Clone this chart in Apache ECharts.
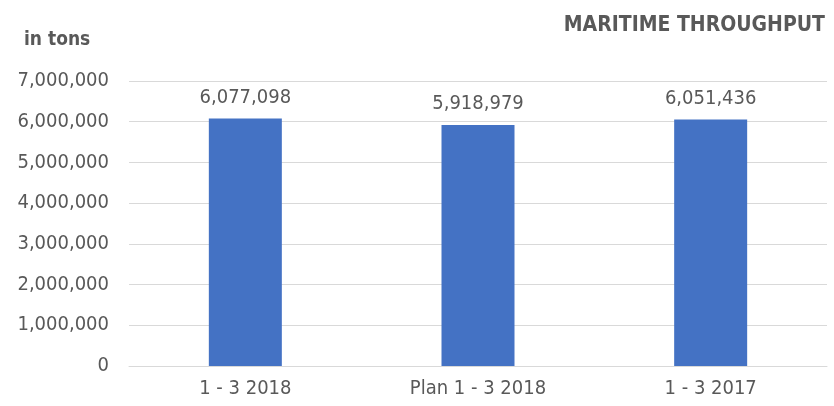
<!DOCTYPE html>
<html><head><meta charset="utf-8">
<script src="https://cdn.jsdelivr.net/npm/echarts@6/dist/echarts.min.js"></script>
<style>html,body{margin:0;padding:0;background:#fff}#c{width:834px;height:406px}</style>
</head><body><div id="c"></div>
<script>
const categories = ['1 - 3 2018', 'Plan 1 - 3 2018', '1 - 3 2017'];
const values = [6077098, 5918979, 6051436];
const titleText = 'MARITIME THROUGHPUT';
const unitText = 'in tons';

const FONT = '"Liberation Sans Narrow", "DejaVu Sans Condensed", Roboto, sans-serif';
const fmt = v => Number(v).toLocaleString('en-US');
const chart = echarts.init(document.getElementById('c'));
chart.setOption({
  animation: false,
  title: [
    { text: titleText, right: 4, top: 10, textStyle: { fontFamily: FONT, fontSize: 21, fontWeight: 'bold', color: '#595959' } },
    { text: unitText, left: 19, top: 26, textStyle: { fontFamily: FONT, fontSize: 19, fontWeight: 'bold', color: '#595959' } }
  ],
  grid: { left: 129, right: 7, top: 81, bottom: 40, containLabel: false },
  xAxis: {
    type: 'category', data: categories,
    axisLine: { show: true, lineStyle: { color: '#d9d9d9', width: 1 } },
    axisTick: { show: false },
    axisLabel: { fontFamily: FONT, fontSize: 20, color: '#595959', margin: 13 }
  },
  yAxis: {
    type: 'value', min: 0, max: 7000000, interval: 1000000,
    axisLine: { show: false }, axisTick: { show: false },
    splitLine: { lineStyle: { color: '#d9d9d9', width: 1 } },
    axisLabel: { fontFamily: FONT, fontSize: 20, color: '#595959', margin: 20, formatter: fmt }
  },
  series: [{
    type: 'bar', data: values, barWidth: 73,
    itemStyle: { color: '#4472C4' },
    label: { show: true, position: 'top', distance: 11, fontFamily: FONT, fontSize: 20, color: '#595959', formatter: p => fmt(p.value) }
  }]
});
</script></body></html>
